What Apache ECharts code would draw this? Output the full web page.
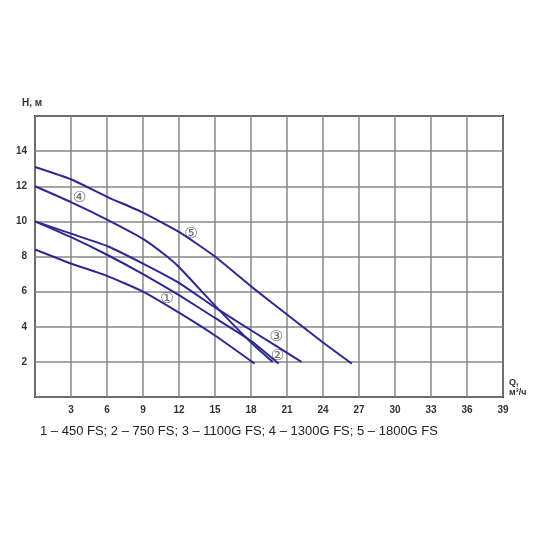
<!DOCTYPE html><html><head><meta charset="utf-8"><script src="https://cdn.jsdelivr.net/npm/echarts@6/dist/echarts.min.js"></script></head><body style="margin:0;background:#fff"><div id="c" style="width:540px;height:540px"></div><script>
const s1=[[0,8.4],[3,7.6],[6,6.9],[9,6],[12,4.8],[15,3.5],[18.3,1.9]];
const s2=[[0,10],[3,9.1],[6,8.1],[9,7],[12,5.8],[15,4.5],[18,3.2],[20.3,1.9]];
const s3=[[0,10],[3,9.3],[6,8.6],[9,7.6],[12,6.5],[15,5.1],[18,3.8],[22.2,2]];
const s4=[[0,12],[3,11.1],[6,10.1],[9,9],[11,8],[12,7.4],[15,5.2],[18,3.1],[19.8,2]];
const s5=[[0,13.1],[3,12.4],[6,11.4],[9,10.5],[12,9.4],[15,8],[18,6.3],[21,4.7],[24,3.1],[26.4,1.9]];
const labels=[['①',11,5.6],['②',20.2,2.3],['③',20.1,3.4],['④',3.7,11.3],['⑤',13,9.3]];
const legendText='1 – 450 FS; 2 – 750 FS; 3 – 1100G FS; 4 – 1300G FS; 5 – 1800G FS';
const col='#2a2a90';
const c=echarts.init(document.getElementById('c'));
const ser=[s1,s2,s3,s4,s5].map(d=>({type:'line',data:d,smooth:0.15,symbol:'none',lineStyle:{color:col,width:2},silent:true}));
ser.push({type:'scatter',symbolSize:0,data:labels.map(l=>({value:[l[1],l[2]],name:l[0]})),label:{show:true,position:'inside',formatter:p=>p.name,fontSize:15,color:'#444',fontFamily:'DejaVu Sans'}});
c.setOption({animation:false,grid:{left:35,right:37,top:116,bottom:143,show:true,borderColor:'#222',borderWidth:2},
xAxis:{type:'value',min:0,max:39,interval:3,axisLine:{show:false},axisTick:{show:false},splitLine:{lineStyle:{color:'#888',width:1.5}},axisLabel:{formatter:v=>v===0?'':v,fontSize:10,fontWeight:'bold',color:'#333',fontFamily:'Liberation Sans'}},
yAxis:{type:'value',min:0,max:16,interval:2,axisLine:{show:false},axisTick:{show:false},splitLine:{lineStyle:{color:'#888',width:1.5}},axisLabel:{formatter:v=>(v===0||v===16)?'':v,fontSize:10,fontWeight:'bold',color:'#333',fontFamily:'Liberation Sans'}},
series:ser,
graphic:[{type:'text',left:22,top:98,style:{text:'H, м',fontSize:10,fontWeight:'bold',fill:'#333',fontFamily:'Liberation Sans'}},
{type:'text',left:509,top:378,style:{text:'Q,\nм³/ч',fontSize:9,fontWeight:'bold',fill:'#333',lineHeight:10,fontFamily:'Liberation Sans'}},
{type:'text',left:40,top:425,style:{text:legendText,fontSize:13,fill:'#222',fontFamily:'Liberation Sans'}}]});
</script></body></html>
